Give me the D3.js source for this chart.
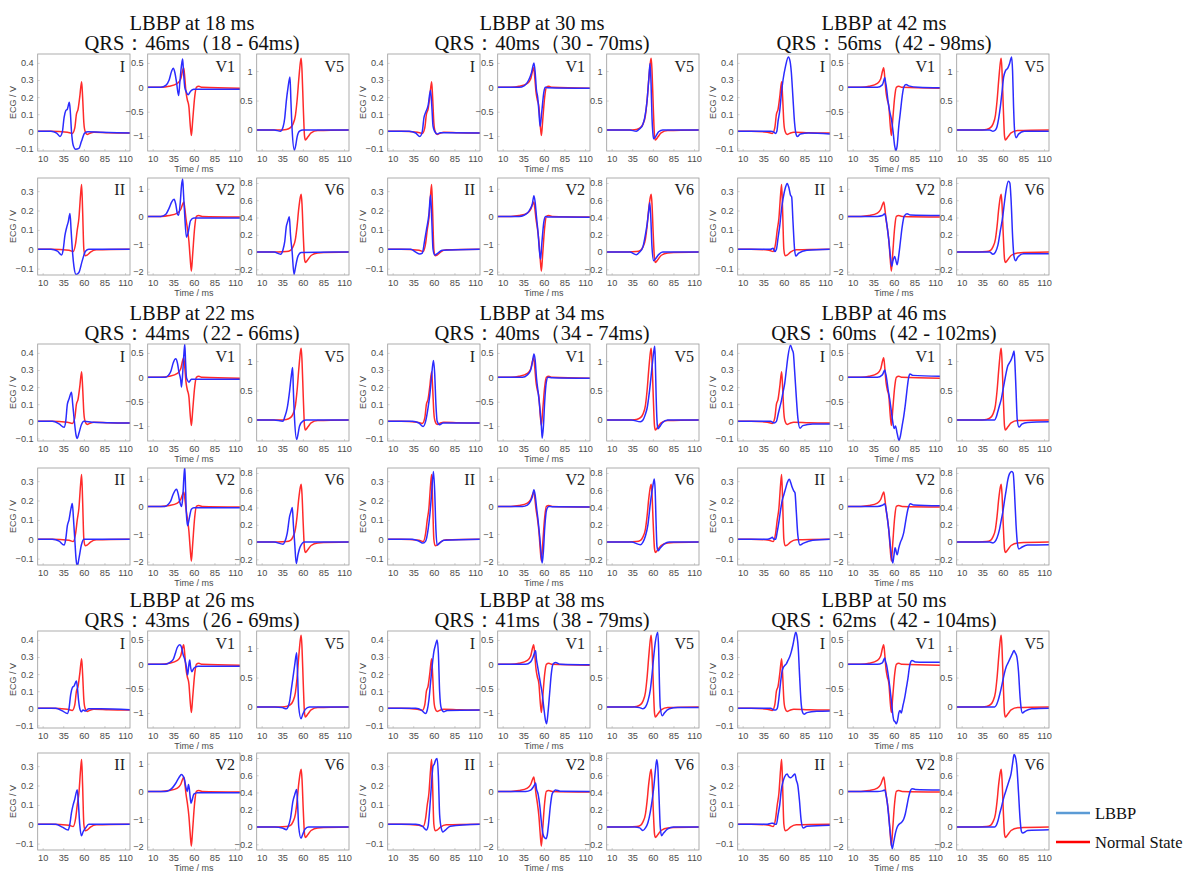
<!DOCTYPE html>
<html><head><meta charset="utf-8">
<script src="https://cdn.jsdelivr.net/npm/d3@7"></script>
<style>body{margin:0;background:#fff}</style>
</head><body><svg id="c" width="1187" height="872"></svg>
<script>
// ---------------- DATA ----------------
const leads = ["I","V1","V5","II","V2","V6"];
const delays = [18,30,42,22,34,46,26,38,50];
const qrsLabels = ["QRS：46ms（18 - 64ms)","QRS：40ms（30 - 70ms)","QRS：56ms（42 - 98ms)",
  "QRS：44ms（22 - 66ms)","QRS：40ms（34 - 74ms)","QRS：60ms（42 - 102ms)",
  "QRS：43ms（26 - 69ms)","QRS：41ms（38 - 79ms)","QRS：62ms（42 - 104ms)"];
const xTicks = [10,35,60,85,110];
const xDomain = [4,116];
const yDomains = {I:[-0.115,0.452], II:[-0.133,0.368], V1:[-1.307,0.684], V2:[-2.12,1.39], V5:[-0.356,1.29], V6:[-0.266,0.858]};
const yTicks = {I:[-0.1,0,0.1,0.2,0.3,0.4], II:[-0.1,0,0.1,0.2,0.3], V1:[-1,-0.5,0,0.5], V2:[-2,-1,0,1], V5:[0,0.5,1], V6:[-0.2,0,0.2,0.4,0.6,0.8]};
const legendLabels = ["LBBP","Normal State"];

// Normal state (red), identical in every group
const normalState = {
 I:[[4,0],[20,0],[40,-0.005],[46,-0.012],[49,0.02],[51,0.1],[53,0.13],[55,0.2],[57.3,0.29],[58.5,0.2],[60,0.05],[61.5,0],[64,-0.018],[67,-0.012],[72,-0.005],[90,-0.008],[116,-0.01]],
 II:[[4,0],[20,0],[42,-0.005],[47,-0.012],[50,0.03],[52,0.1],[54,0.16],[56,0.28],[57.3,0.335],[58.5,0.2],[60,0],[61.5,-0.033],[64,-0.03],[68,-0.015],[75,-0.003],[116,0]],
 V1:[[4,0],[20,0],[30,0.02],[40,0.08],[44,0.17],[46.5,0.35],[47.7,0.4],[49,0.2],[50.5,-0.1],[52,-0.25],[54,-0.4],[55.5,-0.75],[57,-0.99],[58.5,-0.7],[61,-0.2],[63,0],[66,0.02],[70,0],[116,-0.02]],
 V2:[[4,0],[20,0],[30,0.03],[40,0.12],[44,0.25],[46.5,0.45],[47.8,0.52],[49,0.3],[50.5,-0.1],[52,-0.4],[54,-0.9],[55.5,-1.5],[57,-1.98],[58.5,-1.4],[61,-0.4],[63,0],[66,0.03],[70,0],[116,-0.02]],
 V5:[[4,0],[30,0],[40,0.01],[45,0.04],[48,0.1],[51,0.25],[53,0.5],[55,0.85],[57,1.15],[58,1.22],[59,1.0],[60.5,0.4],[62,-0.1],[63,-0.17],[66,-0.12],[70,-0.05],[78,-0.01],[116,0]],
 V6:[[4,0],[30,0],[40,0.005],[45,0.02],[48,0.06],[51,0.15],[53,0.3],[55,0.5],[57,0.64],[58,0.67],[59,0.55],[60.5,0.2],[62,-0.08],[63,-0.12],[66,-0.09],[70,-0.04],[78,-0.01],[116,0]]
};

// LBBP (blue), one set per pacing delay
const lbbp18 = {
 I:[[4,0],[20,0],[27,-0.01],[31,-0.03],[34,0],[36,0.08],[38,0.12],[40,0.13],[42.4,0.17],[43.5,0.12],[45,0],[47,-0.08],[50,-0.105],[54,-0.1],[57,-0.06],[61,-0.01],[65,-0.003],[80,-0.005],[116,-0.01]],
 II:[[4,0],[20,0],[28,-0.01],[33,-0.03],[35,0],[37,0.07],[39,0.11],[41,0.14],[43.2,0.185],[44.5,0.1],[46,0],[48,-0.09],[50.5,-0.13],[54,-0.12],[58,-0.06],[62,-0.01],[66,0],[116,0]],
 V1:[[4,0],[20,0],[26,0.04],[30,0.15],[33,0.33],[35,0.39],[37,0.3],[39,0.1],[41.5,-0.17],[43,0.1],[45,0.45],[46.4,0.58],[47.5,0.3],[49,0],[51,-0.1],[53,-0.15],[56,-0.08],[60,-0.04],[116,-0.04]],
 V2:[[4,0],[20,0],[26,0.08],[30,0.3],[33,0.52],[36,0.62],[38,0.45],[40,0.1],[41.5,0.04],[43.5,0.5],[45,1.1],[46.4,1.35],[47.5,0.8],[49,0],[51,-0.75],[53,-0.6],[56,-0.15],[60,-0.06],[116,-0.06]],
 V5:[[4,0],[25,0],[33,-0.02],[36,0.05],[38,0.2],[40,0.5],[42,0.72],[44.4,0.9],[45.5,0.5],[47,0],[49.7,-0.34],[51.5,-0.25],[53,-0.12],[56,-0.02],[60,0],[116,0]],
 V6:[[4,0],[25,0],[33,-0.025],[36,0.03],[38,0.12],[40,0.3],[41.5,0.35],[43.6,0.41],[45,0.2],[47,0],[49.3,-0.26],[51,-0.18],[54,-0.05],[58,-0.005],[116,0]]
};
const lbbp30 = {
 I:[[4,0],[30,0],[38,-0.01],[43,-0.03],[46,0],[48,0.08],[50,0.11],[53,0.15],[56,0.24],[57.5,0.15],[59,0.03],[61,0],[64,-0.015],[68,-0.008],[116,-0.01]],
 II:[[4,0],[32,0],[38,-0.015],[43,-0.025],[46,-0.02],[49,0.05],[51,0.1],[54,0.18],[56,0.28],[57.5,0.15],[59,0],[61,-0.03],[65,-0.02],[70,-0.005],[116,0]],
 V1:[[4,0],[30,0],[36,0.03],[40,0.1],[43,0.2],[45,0.3],[48,0.5],[49.5,0.3],[51,-0.05],[52.5,-0.2],[54,-0.5],[55.5,-0.8],[57.5,-0.5],[60,-0.1],[62,0],[65,-0.01],[116,-0.02]],
 V2:[[4,0],[30,0],[36,0.04],[40,0.12],[43,0.25],[46,0.45],[48,0.75],[49.5,0.5],[51,0],[53,-0.6],[54.5,-1.2],[56,-1.55],[57.5,-1.0],[60,-0.2],[62,0],[65,-0.02],[116,-0.03]],
 V5:[[4,0],[32,0],[40,-0.02],[44,0.02],[48,0.1],[50,0.2],[53,0.5],[55,0.85],[56.6,1.13],[57.8,0.8],[59,0.2],[60,-0.05],[61,-0.15],[63,-0.12],[67,-0.03],[72,0],[116,0]],
 V6:[[4,0],[32,0],[40,-0.03],[44,0],[48,0.06],[50,0.15],[53,0.32],[55,0.48],[56.3,0.57],[57.5,0.4],[59,0.05],[61,-0.1],[63,-0.08],[67,-0.03],[72,0],[116,0]]
};
const lbbp42 = {
 I:[[4,0],[44,0],[48,-0.005],[50,-0.012],[51.5,0],[53,0.06],[55,0.12],[57,0.22],[59,0.3],[62,0.38],[65.5,0.435],[67.5,0.41],[69,0.35],[71,0.2],[73,0.05],[75,-0.02],[76.4,-0.03],[80,-0.015],[90,-0.01],[116,-0.015]],
 II:[[4,0],[44,0],[47,0.005],[49,-0.012],[51,0],[53,0.06],[55,0.12],[57,0.2],[59,0.26],[62,0.32],[64,0.34],[66,0.32],[68,0.28],[69.5,0.27],[71,0.15],[73,0],[74.4,-0.035],[78,-0.02],[88,-0.005],[116,0]],
 V1:[[4,0],[40,0],[46,0.05],[48,0.15],[49,0.2],[50,0.1],[51,0],[53,-0.3],[55,-0.5],[57,-0.65],[59,-0.9],[61,-1.2],[62.6,-1.3],[64,-1.2],[66,-0.8],[68,-0.5],[70,-0.2],[72,0],[74.8,0.06],[78,0.03],[90,0],[116,-0.01]],
 V2:[[4,0],[40,0],[46,0.03],[48,0.08],[49,0.1],[50,0],[52,-0.4],[54,-0.9],[56,-1.5],[57.4,-1.8],[59,-1.6],[61,-1.45],[62.5,-1.6],[64,-1.75],[66,-1.4],[68,-0.9],[70,-0.4],[72.5,0],[76,0.1],[80,0.05],[116,0.03]],
 V5:[[4,0],[44,0],[48,-0.02],[51,0],[53,0.06],[55,0.2],[57,0.4],[59,0.65],[61,0.9],[63,1.0],[66,1.05],[68,1.12],[70.7,1.24],[71.8,1.0],[73,0.4],[74.2,0],[76,-0.13],[79,-0.07],[86,-0.02],[116,-0.02]],
 V6:[[4,0],[44,0],[48,-0.025],[51,0],[54,0.08],[57,0.25],[60,0.42],[62,0.58],[64,0.72],[66.7,0.82],[68.5,0.8],[70,0.6],[72,0.15],[73.5,-0.05],[75.5,-0.1],[78,-0.06],[85,-0.02],[116,-0.02]]
};
const lbbp22 = {
 I:[[4,0],[22,0],[30,-0.015],[36,-0.035],[38,0],[40,0.1],[42,0.13],[45,0.17],[46.5,0.1],[48.5,0],[50.5,-0.08],[52,-0.1],[54,-0.07],[57,-0.02],[60,0],[70,-0.005],[116,-0.01]],
 II:[[4,0],[22,0],[30,-0.01],[36,-0.03],[38,0],[40,0.07],[42,0.1],[44,0.15],[46,0.185],[47.5,0.1],[49,0],[50.5,-0.1],[52,-0.14],[54,-0.1],[57,-0.03],[60,0],[116,0]],
 V1:[[4,0],[25,0],[29,0.04],[32,0.12],[35,0.3],[38,0.38],[40,0.3],[42,0.1],[44,-0.05],[45,-0.2],[46.5,0.1],[48,0.5],[49,0.68],[50,0.3],[51,0],[52,-0.05],[54,-0.1],[57,-0.04],[116,-0.04]],
 V2:[[4,0],[25,0],[29,0.08],[32,0.2],[35,0.45],[39,0.62],[41,0.45],[43,0.15],[45,0],[46.5,0.3],[48,1.1],[49,1.42],[50,0.6],[51,-0.3],[52.5,-0.7],[54,-0.5],[57,-0.1],[60,-0.05],[116,-0.05]],
 V5:[[4,0],[25,0],[36,-0.02],[38,0.05],[41,0.2],[44,0.5],[46,0.75],[47.6,0.89],[48.5,0.5],[50,0],[52.5,-0.33],[54,-0.25],[56,-0.1],[60,-0.02],[64,0],[116,0]],
 V6:[[4,0],[25,0],[36,-0.025],[38,0],[41,0.1],[44,0.3],[45.5,0.35],[47.2,0.4],[48.5,0.2],[50,0],[52,-0.25],[54,-0.15],[57,-0.05],[62,0],[116,0]]
};
const lbbp34 = {
 I:[[4,0],[34,0],[42,-0.01],[47,-0.03],[50,0],[53,0.08],[55,0.15],[57,0.25],[59.5,0.355],[61,0.28],[62.5,0.1],[64,0],[67,-0.02],[71,-0.01],[116,-0.01]],
 II:[[4,0],[34,0],[42,-0.01],[47,-0.02],[50,-0.01],[53,0.05],[55,0.12],[57,0.22],[59.5,0.35],[61,0.25],[62.5,0.05],[64,-0.03],[67,-0.02],[72,-0.005],[116,0]],
 V1:[[4,0],[34,0],[40,0.05],[44,0.15],[46,0.3],[48,0.48],[49.5,0.35],[51,0],[53,-0.3],[55,-0.6],[57,-1.0],[58,-1.25],[59.5,-1.0],[61,-0.5],[63,-0.1],[65,0],[70,-0.01],[116,-0.02]],
 V2:[[4,0],[34,0],[40,0.05],[44,0.2],[46,0.35],[48,0.6],[49.5,0.4],[51,0],[53,-0.5],[55,-1.1],[57,-1.8],[58,-2.05],[59.5,-1.6],[61,-0.8],[63.5,-0.1],[66,0],[70,-0.01],[116,-0.02]],
 V5:[[4,0],[34,0],[45,-0.03],[48,0],[51,0.1],[53,0.2],[56,0.5],[59,0.9],[61,1.15],[62.3,1.25],[63,1.0],[64,0.4],[65,0],[66,-0.15],[68,-0.12],[72,-0.04],[78,0],[116,0]],
 V6:[[4,0],[34,0],[45,-0.03],[48,0],[51,0.07],[54,0.2],[57,0.45],[60,0.65],[61.8,0.73],[62.8,0.6],[64,0.2],[65,-0.05],[66.5,-0.1],[69,-0.07],[74,-0.02],[80,0],[116,0]]
};
const lbbp46 = {
 I:[[4,0],[44,0],[48,-0.01],[51,0],[53,0.04],[55,0.08],[57,0.12],[59,0.17],[61,0.22],[63,0.3],[65,0.38],[68,0.445],[70,0.42],[71.5,0.4],[73,0.3],[75,0.15],[77,0.02],[79.6,-0.04],[83,-0.025],[95,-0.015],[116,-0.015]],
 II:[[4,0],[40,0],[44,0.005],[46,0.01],[48,0],[50,0],[52,0.04],[54,0.09],[56,0.15],[58,0.2],[60,0.23],[62,0.26],[64,0.29],[66.7,0.31],[68.5,0.29],[70,0.27],[72,0.25],[73.5,0.24],[75,0.15],[77,0.02],[79.6,-0.03],[84,-0.02],[95,-0.005],[116,0]],
 V1:[[4,0],[40,0],[46,0.05],[48,0.12],[49,0.15],[50,0.08],[51,0],[53,-0.25],[55,-0.45],[57,-0.7],[59,-0.95],[60.5,-1.05],[62,-1.0],[64,-1.15],[66.3,-1.3],[68,-1.2],[70,-1.0],[72,-0.8],[74,-0.55],[76,-0.25],[78,0],[79.5,0.07],[83,0.04],[116,0.02]],
 V2:[[4,0],[40,0],[46,0.04],[48,0.08],[49,0.1],[50,0],[52,-0.4],[54,-0.9],[56,-1.5],[58.6,-2.05],[60,-1.8],[61.5,-1.5],[64,-1.75],[66,-1.5],[68,-1.3],[70,-1.15],[72,-0.95],[74,-0.6],[76,-0.25],[78,0],[80,0.1],[84,0.05],[116,0.02]],
 V5:[[4,0],[44,0],[50,0],[52,0.05],[54,0.15],[56,0.25],[58,0.35],[60,0.5],[62,0.65],[64,0.8],[66,0.92],[68,0.97],[70,1.02],[72,1.1],[73.6,1.17],[74.5,1.0],[76,0.5],[77.5,0],[79.6,-0.12],[83,-0.07],[90,-0.04],[116,-0.03]],
 V6:[[4,0],[44,0],[48,-0.01],[50,0],[53,0.05],[56,0.15],[58,0.25],[60,0.35],[62,0.48],[64,0.6],[66,0.72],[68,0.79],[70.7,0.817],[72.5,0.8],[74,0.6],[76,0.2],[77.5,0],[79.5,-0.08],[83,-0.06],[90,-0.035],[116,-0.03]]
};
const lbbp26 = {
 I:[[4,0],[26,0],[34,-0.015],[40,-0.03],[42,0],[44,0.08],[46,0.12],[48,0.13],[51,0.16],[52.2,0.12],[53.5,0.05],[55,0],[57,-0.02],[59,-0.01],[62,-0.015],[66,-0.002],[80,-0.003],[116,-0.008]],
 II:[[4,0],[26,0],[34,-0.015],[41,-0.03],[43,0],[45,0.06],[47,0.1],[49,0.13],[52,0.178],[53.5,0.1],[55,0],[57,-0.06],[59,-0.04],[62,-0.02],[66,0],[116,0]],
 V1:[[4,0],[25,0],[30,0.03],[35,0.1],[38,0.25],[40,0.35],[43,0.4],[45,0.35],[47,0.2],[49,0.1],[51,-0.05],[52.5,-0.22],[54,0],[55,0.09],[56,-0.05],[57.5,-0.15],[60,-0.08],[65,-0.04],[116,-0.04]],
 V2:[[4,0],[25,0],[30,0.04],[33,0.1],[37,0.25],[40,0.4],[43,0.55],[45,0.61],[47,0.55],[48.5,0.45],[50,0.2],[52,0],[53.5,0.25],[54.5,0.1],[55.5,-0.2],[56.6,-0.43],[58,-0.3],[60,-0.1],[64,-0.05],[116,-0.05]],
 V5:[[4,0],[26,0],[35,-0.01],[40,-0.03],[42,0],[44,0.1],[46,0.3],[48,0.5],[50,0.7],[52.5,0.92],[53.5,0.6],[55,0],[57.8,-0.2],[60,-0.12],[63,-0.04],[68,0],[116,0]],
 V6:[[4,0],[26,0],[35,-0.01],[40,-0.03],[42,0],[45,0.1],[48,0.3],[50,0.37],[52.5,0.435],[53.5,0.3],[55,0],[57.8,-0.13],[60,-0.08],[63,-0.02],[67,0],[116,0]]
};
const lbbp38 = {
 I:[[4,0],[38,0],[45,-0.01],[50,-0.03],[52,-0.01],[54,0.05],[56,0.15],[58,0.25],[60,0.33],[62,0.37],[64,0.4],[65.5,0.32],[67,0.1],[69,0],[72,-0.02],[76,-0.012],[116,-0.01]],
 II:[[4,0],[38,0],[46,-0.01],[51,-0.03],[53,-0.01],[55,0.08],[57,0.2],[59,0.3],[60.5,0.31],[62,0.33],[64,0.34],[65.5,0.25],[67,0.05],[69,-0.02],[71,-0.04],[74,-0.03],[80,-0.01],[116,0]],
 V1:[[4,0],[38,0],[44,0.05],[47,0.15],[49,0.25],[50,0.28],[51,0.1],[52,0],[54,-0.2],[56,-0.4],[58,-0.6],[60,-0.9],[62,-1.15],[63.4,-1.22],[65,-1.0],[67,-0.6],[69,-0.2],[71,0],[74,0.04],[80,0],[116,-0.01]],
 V2:[[4,0],[38,0],[44,0.05],[47,0.15],[49,0.25],[50,0.3],[51,0.1],[53,-0.1],[55,-0.5],[57,-1.1],[59,-1.55],[61,-1.68],[62.6,-1.71],[64,-1.6],[66,-1.1],[68,-0.5],[70,-0.1],[72,0],[74,0.05],[80,0.01],[116,0]],
 V5:[[4,0],[38,0],[44,-0.01],[48,-0.03],[51,0],[54,0.1],[57,0.3],[59,0.55],[61,0.85],[63,1.1],[65.9,1.27],[67,1.0],[68,0.4],[69,0],[71.5,-0.15],[74,-0.1],[80,-0.03],[90,-0.01],[116,-0.01]],
 V6:[[4,0],[38,0],[44,-0.01],[48,-0.04],[51,-0.01],[54,0.05],[57,0.18],[59,0.3],[61,0.45],[63,0.65],[64.7,0.78],[66,0.7],[67.5,0.35],[69,0],[70.5,-0.1],[73,-0.07],[78,-0.02],[85,0],[116,0]]
};
const lbbp50 = {
 I:[[4,0],[44,0],[48,-0.01],[50,-0.01],[52,0],[54,0.06],[56,0.15],[58,0.22],[59.5,0.24],[61,0.25],[63,0.26],[65,0.28],[67,0.3],[69,0.33],[71,0.37],[73,0.42],[74.4,0.445],[76,0.42],[77.5,0.35],[79,0.2],[81,0.03],[82.5,-0.02],[84.5,-0.035],[88,-0.025],[100,-0.017],[116,-0.015]],
 II:[[4,0],[40,0],[45,0.005],[47,0.005],[49,0],[51,0],[53,0.05],[55,0.1],[57,0.18],[59,0.22],[61,0.245],[64,0.26],[66,0.245],[68.4,0.24],[71,0.25],[73.5,0.26],[75,0.23],[77,0.2],[79,0.12],[81,0.02],[83.5,-0.02],[88,-0.01],[116,-0.005]],
 V1:[[4,0],[40,0],[46,0.03],[48,0.1],[49,0.13],[50,0.05],[51,0],[53,-0.2],[55,-0.45],[57,-0.75],[58.5,-1.0],[60,-1.15],[61.5,-1.18],[63,-1.22],[64.5,-1.15],[66,-1.0],[67.5,-0.95],[69,-1.0],[71,-0.85],[73,-0.7],[75,-0.5],[77,-0.3],[79,-0.05],[80.5,0.05],[82,0.08],[86,0.05],[116,0.04]],
 V2:[[4,0],[40,0],[46,0.02],[48,0.04],[49,0.05],[50,-0.05],[52,-0.4],[54,-1.0],[56,-1.6],[58,-2.08],[60,-1.8],[62,-1.5],[64,-1.3],[66,-1.2],[68,-1.15],[70,-1.1],[72,-1.0],[74,-0.8],[76,-0.5],[78,-0.2],[80,0.02],[82,0.1],[86,0.07],[116,0.05]],
 V5:[[4,0],[44,0],[50,0],[52,0.03],[54,0.1],[56,0.2],[58,0.32],[60,0.45],[62,0.58],[64,0.68],[66,0.74],[68,0.8],[70,0.86],[72,0.92],[73.6,0.96],[75,0.92],[77,0.85],[79,0.6],[81,0.15],[82,0],[83.7,-0.1],[87,-0.07],[95,-0.03],[116,-0.02]],
 V6:[[4,0],[44,0],[50,0],[52,0.02],[54,0.07],[56,0.15],[58,0.22],[60,0.3],[62,0.37],[64,0.43],[66,0.49],[68,0.55],[70,0.62],[72,0.75],[73.6,0.84],[75,0.82],[77,0.7],[79,0.4],[81,0.08],[82.5,-0.05],[84,-0.07],[90,-0.04],[116,-0.03]]
};
const lbbpSets = [lbbp18,lbbp30,lbbp42,lbbp22,lbbp34,lbbp46,lbbp26,lbbp38,lbbp50];

// ---------------- LAYOUT ----------------
const groupX = [37.7, 387.7, 737.7];
const titleX = [192, 542, 884];
const rowTops = [[54,178],[344,468],[631,753]];
const colOff = [0,110,219];
const PW = 92.3, PH = 97;
const BLUE = "#2b2bff", RED = "#ff2a2a";
const SERIF = "Liberation Serif, Times New Roman, serif";
const SANS = "Liberation Sans, Arial, sans-serif";

const svg = d3.select("#c");
const x = d3.scaleLinear().domain(xDomain).range([0, PW]);
const line = (y) => d3.line().x(d => x(d[0])).y(d => y(d[1])).curve(d3.curveMonotoneX);

delays.forEach((delay, gi) => {
  const gr = Math.floor(gi/3), gc = gi % 3;
  const gx = groupX[gc];
  const tops = rowTops[gr];
  const g = svg.append("g");
  g.append("text").attr("x", titleX[gc]).attr("y", tops[0]-24).attr("text-anchor","middle")
    .attr("font-family",SERIF).attr("font-size",20.5).attr("fill","#111")
    .text(`LBBP at ${delay} ms`);
  g.append("text").attr("x", titleX[gc]).attr("y", tops[0]-4).attr("text-anchor","middle")
    .attr("font-family",SERIF).attr("font-size",20.5).attr("fill","#111")
    .text(qrsLabels[gi]);

  leads.forEach((lead, li) => {
    const r = Math.floor(li/3), c = li % 3;
    const px = gx + colOff[c], py = tops[r];
    const y = d3.scaleLinear().domain(yDomains[lead]).range([PH, 0]);
    const p = g.append("g").attr("transform", `translate(${px},${py})`);
    p.append("rect").attr("width", PW).attr("height", PH).attr("fill","#fff");
    const clipId = `clip${gi}_${li}`;
    p.append("clipPath").attr("id", clipId).append("rect").attr("width", PW).attr("height", PH);

    p.append("g").attr("transform", `translate(0,${PH})`)
      .call(d3.axisBottom(x).tickValues(xTicks).tickSizeInner(-2).tickSizeOuter(0).tickPadding(4));
    p.append("g")
      .call(d3.axisLeft(y).tickValues(yTicks[lead]).tickFormat(d3.format("")).tickSizeInner(-2).tickSizeOuter(0).tickPadding(4));
    p.selectAll(".domain").remove();
    p.selectAll(".tick line").attr("stroke","#aaa").attr("stroke-width",0.5);
    p.selectAll(".tick text").attr("font-family",SANS).attr("font-size",9.2).attr("fill","#4a4a4a");

    p.append("path").datum(normalState[lead]).attr("d", line(y)).attr("fill","none")
      .attr("stroke", RED).attr("stroke-width",1.5).attr("clip-path",`url(#${clipId})`);
    p.append("path").datum(lbbpSets[gi][lead]).attr("d", line(y)).attr("fill","none")
      .attr("stroke", BLUE).attr("stroke-width",1.5).attr("clip-path",`url(#${clipId})`);

    p.append("rect").attr("width", PW).attr("height", PH).attr("fill","none").attr("stroke","#999").attr("stroke-width",0.8);

    p.append("text").attr("x", PW-5).attr("y", r===0 ? 18 : 17).attr("text-anchor","end")
      .attr("font-family",SERIF).attr("font-size",16).attr("fill","#222").text(lead);

    if (c === 0) {
      g.append("text").attr("transform", `translate(${gx-22},${py+PH/2}) rotate(-90)`).attr("text-anchor","middle")
        .attr("font-family",SANS).attr("font-size",9).attr("fill","#4a4a4a").text("ECG / V");
    }
    if (c === 1) {
      g.append("text").attr("x", px+PW/2).attr("y", py+PH+21).attr("text-anchor","middle")
        .attr("font-family",SANS).attr("font-size",9).attr("fill","#4a4a4a").text("Time / ms");
    }
  });
});

// legend
const legColors = ["#5b9bd5", "#ff0000"];
const leg = svg.append("g");
legendLabels.forEach((lab, i) => {
  const ly = 813 + i*29;
  leg.append("line").attr("x1",1056).attr("x2",1090).attr("y1",ly).attr("y2",ly).attr("stroke",legColors[i]).attr("stroke-width",2.5);
  leg.append("text").attr("x",1095).attr("y",ly+6).attr("font-family",SERIF)
    .attr("font-size",16.5).attr("fill","#111").text(lab);
});
</script>
</body></html>
